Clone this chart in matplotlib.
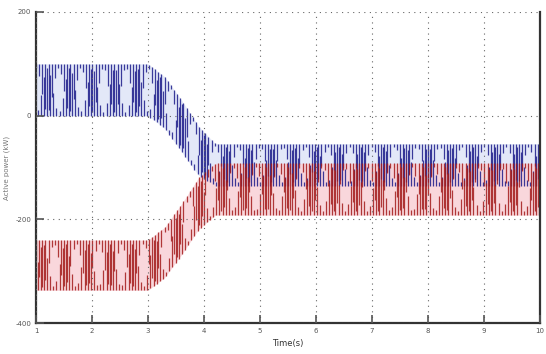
import numpy as np
import matplotlib
matplotlib.use("Agg")
import matplotlib.pyplot as plt

# Envelope keypoints (time in s, value in chart units)
t_keys = [1.0, 3.0, 3.3, 3.6, 3.9, 4.2, 10.0]
blue_upper = [100, 100, 75, 30, -20, -54, -54]
blue_lower = [0, 0, -25, -70, -115, -135, -135]
red_upper = [-240, -240, -215, -170, -120, -92, -92]
red_lower = [-337, -337, -312, -268, -220, -192, -192]

x_ticks = [1, 2, 3, 4, 5, 6, 7, 8, 9, 10]
x_ticklabels = ["1", "2", "3", "4", "5", "6", "7", "8", "9", "10"]
y_ticks = [-400, -200, 0, 200]
y_ticklabels = ["-400", "-200", "0", "200"]

ripple_period = 0.40  # s, period of the crossing ripple pattern
bar_step = 0.028      # s, spacing of the ripple bars

fig = plt.figure(figsize=(5.46, 3.54), dpi=100)
ax = fig.add_axes([36/546, 1-323/354, 504/546, 311/354])

t = np.arange(1.0, 10.0 + 1e-9, bar_step)
n = np.arange(len(t))
tf = np.linspace(1.0, 10.0, 600)

def draw(upper, lower, dark, light, ph):
    upf = np.interp(tf, t_keys, upper)
    lof = np.interp(tf, t_keys, lower)
    ax.fill_between(tf, lof, upf, color=light, lw=0, zorder=1, alpha=0.85)
    up = np.interp(t, t_keys, upper)
    lo = np.interp(t, t_keys, lower)
    mid = (up+lo)/2
    half = (up-lo)/2
    c = np.cos(2*np.pi*(t - 1)/ripple_period + ph)
    top_bar = n % 2 == 0
    ymin = np.where(top_bar, mid + 0.85*half*c, lo)
    ymax = np.where(top_bar, up, mid - 0.85*half*c)
    ax.vlines(t, ymin, ymax, color=dark, lw=0.9, zorder=2, alpha=0.85)

draw(blue_upper, blue_lower, "#1c1c8a", "#dfe5f7", 0.0)
draw(red_upper, red_lower, "#a31b1b", "#f9d0d6", 1.3)

ax.set_xlim(1, 10)
ax.set_ylim(-400, 200)
ax.set_xticks(x_ticks)
ax.set_xticklabels(x_ticklabels)
ax.set_yticks(y_ticks)
ax.set_yticklabels(y_ticklabels)
ax.tick_params(direction="in", length=6, width=1.2, labelsize=5, colors="#555555")
ax.grid(True, linestyle=(0, (1, 4)), color="#666666", lw=0.8)
ax.set_axisbelow(False)
for s in ["left", "bottom", "right"]:
    ax.spines[s].set_linewidth(1.6)
    ax.spines[s].set_color("#333333")
ax.spines["top"].set_visible(False)
ax.set_xlabel("Time(s)", fontsize=6, color="#333333", labelpad=4)
ax.set_ylabel("Active power (kW)", fontsize=5, color="#777777", labelpad=4)
fig.savefig("out.png", dpi=100, facecolor="white")
